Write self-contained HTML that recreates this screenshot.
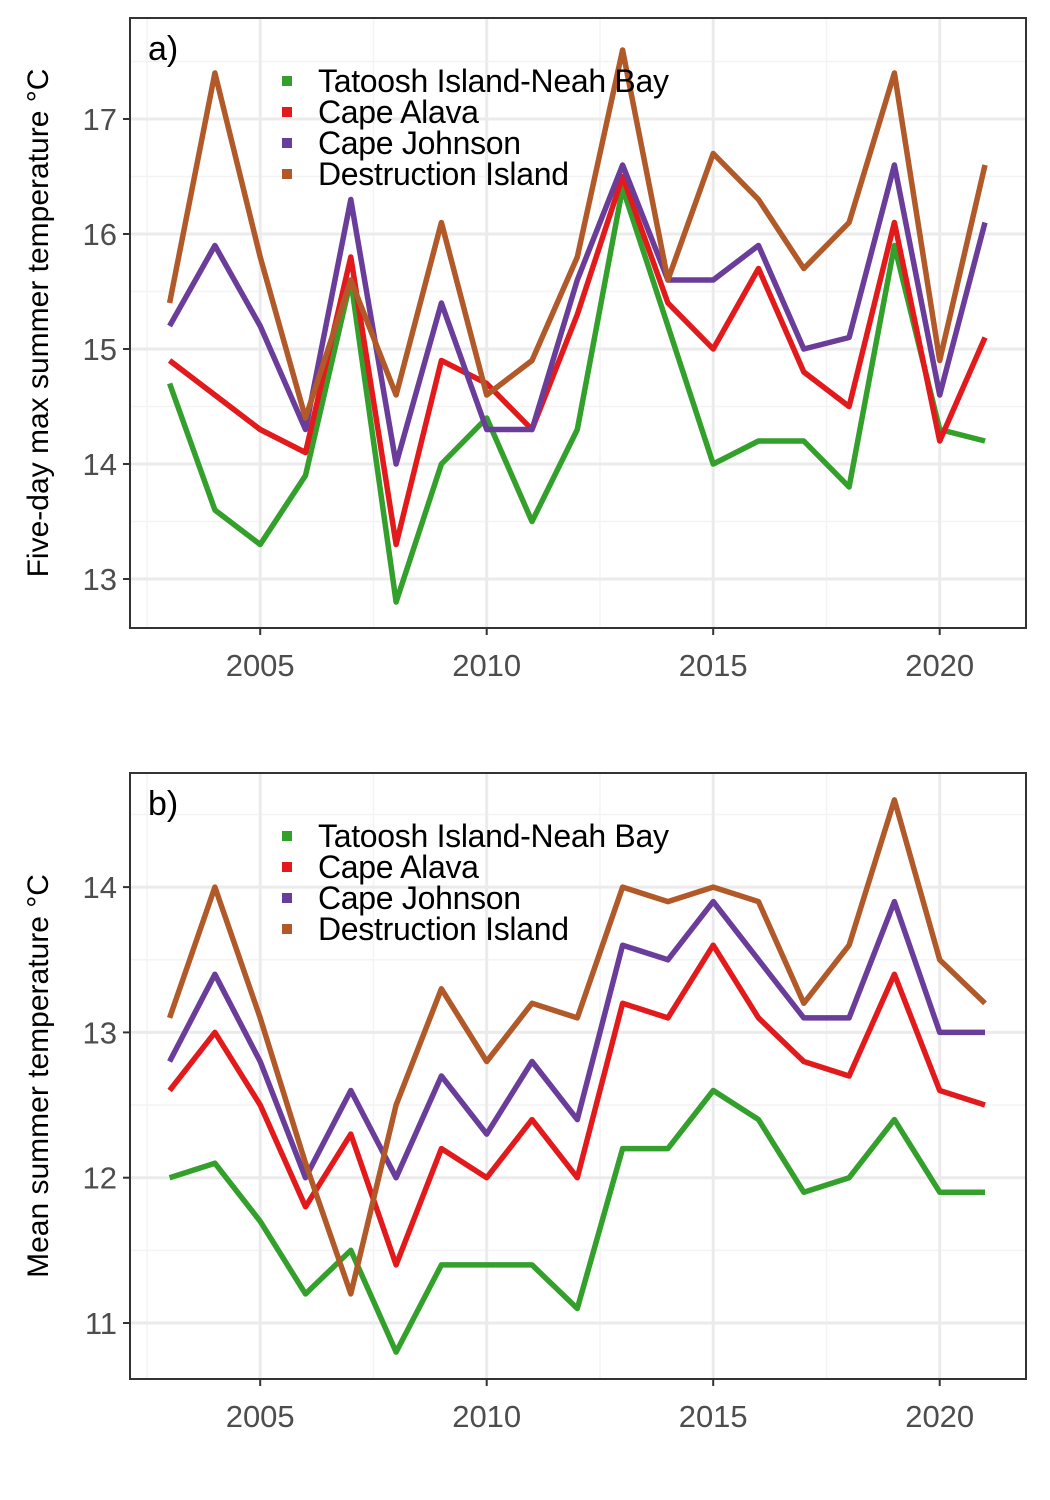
<!DOCTYPE html>
<html><head><meta charset="utf-8"><style>
body{margin:0;background:#fff;}
svg{display:block;font-family:"Liberation Sans",Arial,sans-serif;}
</style></head><body>
<svg id="chart" width="1050" height="1500"></svg>
<script>
const years=[2003,2004,2005,2006,2007,2008,2009,2010,2011,2012,2013,2014,2015,2016,2017,2018,2019,2020,2021];
const seriesNames=["Tatoosh Island-Neah Bay","Cape Alava","Cape Johnson","Destruction Island"];
const seriesColors=["#33a02c","#e31a1c","#6a3d9a","#b15928"];
const maxTatoosh=[14.7,13.6,13.3,13.9,15.6,12.8,14.0,14.4,13.5,14.3,16.4,15.2,14.0,14.2,14.2,13.8,15.9,14.3,14.2];
const maxAlava=[14.9,14.6,14.3,14.1,15.8,13.3,14.9,14.7,14.3,15.3,16.5,15.4,15.0,15.7,14.8,14.5,16.1,14.2,15.1];
const maxJohnson=[15.2,15.9,15.2,14.3,16.3,14.0,15.4,14.3,14.3,15.6,16.6,15.6,15.6,15.9,15.0,15.1,16.6,14.6,16.1];
const maxDestruction=[15.4,17.4,15.8,14.4,15.6,14.6,16.1,14.6,14.9,15.8,17.6,15.6,16.7,16.3,15.7,16.1,17.4,14.9,16.6];
const meanTatoosh=[12.0,12.1,11.7,11.2,11.5,10.8,11.4,11.4,11.4,11.1,12.2,12.2,12.6,12.4,11.9,12.0,12.4,11.9,11.9];
const meanAlava=[12.6,13.0,12.5,11.8,12.3,11.4,12.2,12.0,12.4,12.0,13.2,13.1,13.6,13.1,12.8,12.7,13.4,12.6,12.5];
const meanJohnson=[12.8,13.4,12.8,12.0,12.6,12.0,12.7,12.3,12.8,12.4,13.6,13.5,13.9,13.5,13.1,13.1,13.9,13.0,13.0];
const meanDestruction=[13.1,14.0,13.1,12.1,11.2,12.5,13.3,12.8,13.2,13.1,14.0,13.9,14.0,13.9,13.2,13.6,14.6,13.5,13.2];
const xTicks=[2005,2010,2015,2020];
const yTicksA=[13,14,15,16,17];
const yTicksB=[11,12,13,14];

const NS="http://www.w3.org/2000/svg";
const svg=document.getElementById('chart');
function mk(tag,attrs,parent){const e=document.createElementNS(NS,tag);for(const k in attrs)e.setAttribute(k,attrs[k]);(parent||svg).appendChild(e);return e;}

function panel(cfg){
  const g=mk('g',{});
  
  
  const L=130,R=1026,T=cfg.top,B=cfg.bottom;
  const x=v=>169.6+(v-2003)*45.3;
  const y=v=>cfg.y0+(cfg.v0-v)*cfg.k;
  for(let v=2002.5;v<=2022.5;v+=5){const px=x(v);if(px>L&&px<R)mk('line',{x1:px,x2:px,y1:T,y2:B,stroke:'#f3f3f3','stroke-width':1.5},g);}
  for(let v=cfg.minY-0.5;v<=cfg.maxY+0.5;v+=1){const py=y(v);if(py>T&&py<B)mk('line',{x1:L,x2:R,y1:py,y2:py,stroke:'#f3f3f3','stroke-width':1.5},g);}
  xTicks.forEach(v=>{mk('line',{x1:x(v),x2:x(v),y1:T,y2:B,stroke:'#ebebeb','stroke-width':3},g);});
  cfg.yTicks.forEach(v=>{mk('line',{x1:L,x2:R,y1:y(v),y2:y(v),stroke:'#ebebeb','stroke-width':3},g);});
  cfg.series.forEach((s,i)=>{
    const p=mk('polyline',{points:s.map((v,j)=>x(years[j]).toFixed(1)+','+y(v).toFixed(1)).join(' '),fill:'none',stroke:seriesColors[i],'stroke-width':5.5,'stroke-linejoin':'round'},g);
    
    
  });
  mk('rect',{x:L,y:T,width:R-L,height:B-T,fill:'none',stroke:'#333','stroke-width':2},g);
  xTicks.forEach(v=>{
    mk('line',{x1:x(v),x2:x(v),y1:B,y2:B+7,stroke:'#333','stroke-width':2},g);
    const t=mk('text',{x:x(v),y:B+48,'text-anchor':'middle','font-size':31,fill:'#4d4d4d'},g);t.textContent=v;
    
    
  });
  cfg.yTicks.forEach(v=>{
    mk('line',{x1:L-7,x2:L,y1:y(v),y2:y(v),stroke:'#333','stroke-width':2},g);
    const t=mk('text',{x:L-13,y:y(v)+11,'text-anchor':'end','font-size':31,fill:'#4d4d4d'},g);t.textContent=v;
    
    
  });
  const yt=mk('text',{transform:`translate(48,${(T+B)/2}) rotate(-90)`,'text-anchor':'middle','font-size':30,fill:'#000'},g);
  yt.textContent=cfg.ytitle;
  
  
  const lab=mk('text',{x:148,y:T+42,'font-size':34,fill:'#000'},g);lab.textContent=cfg.label;
  
  
  seriesNames.forEach((n,i)=>{
    const ly=T+63+i*31;
    const lg=mk('g',{},g);
    
    
    mk('rect',{x:282,y:ly-5,width:10,height:10,fill:seriesColors[i]},lg);
    const t=mk('text',{x:318,y:ly+11,'font-size':32,fill:'#000','letter-spacing':'-0.3'},lg);t.textContent=n;
  });
}
panel({name:'panel-a-max-temp',top:18,bottom:628,y0:579,v0:13,k:115,yTicks:yTicksA,minY:13,maxY:17,
  series:[maxTatoosh,maxAlava,maxJohnson,maxDestruction],ytitle:'Five-day max summer temperature °C',label:'a)'});
panel({name:'panel-b-mean-temp',top:773,bottom:1379,y0:1323,v0:11,k:145.3,yTicks:yTicksB,minY:11,maxY:14,
  series:[meanTatoosh,meanAlava,meanJohnson,meanDestruction],ytitle:'Mean summer temperature °C',label:'b)'});
</script>
</body></html>
